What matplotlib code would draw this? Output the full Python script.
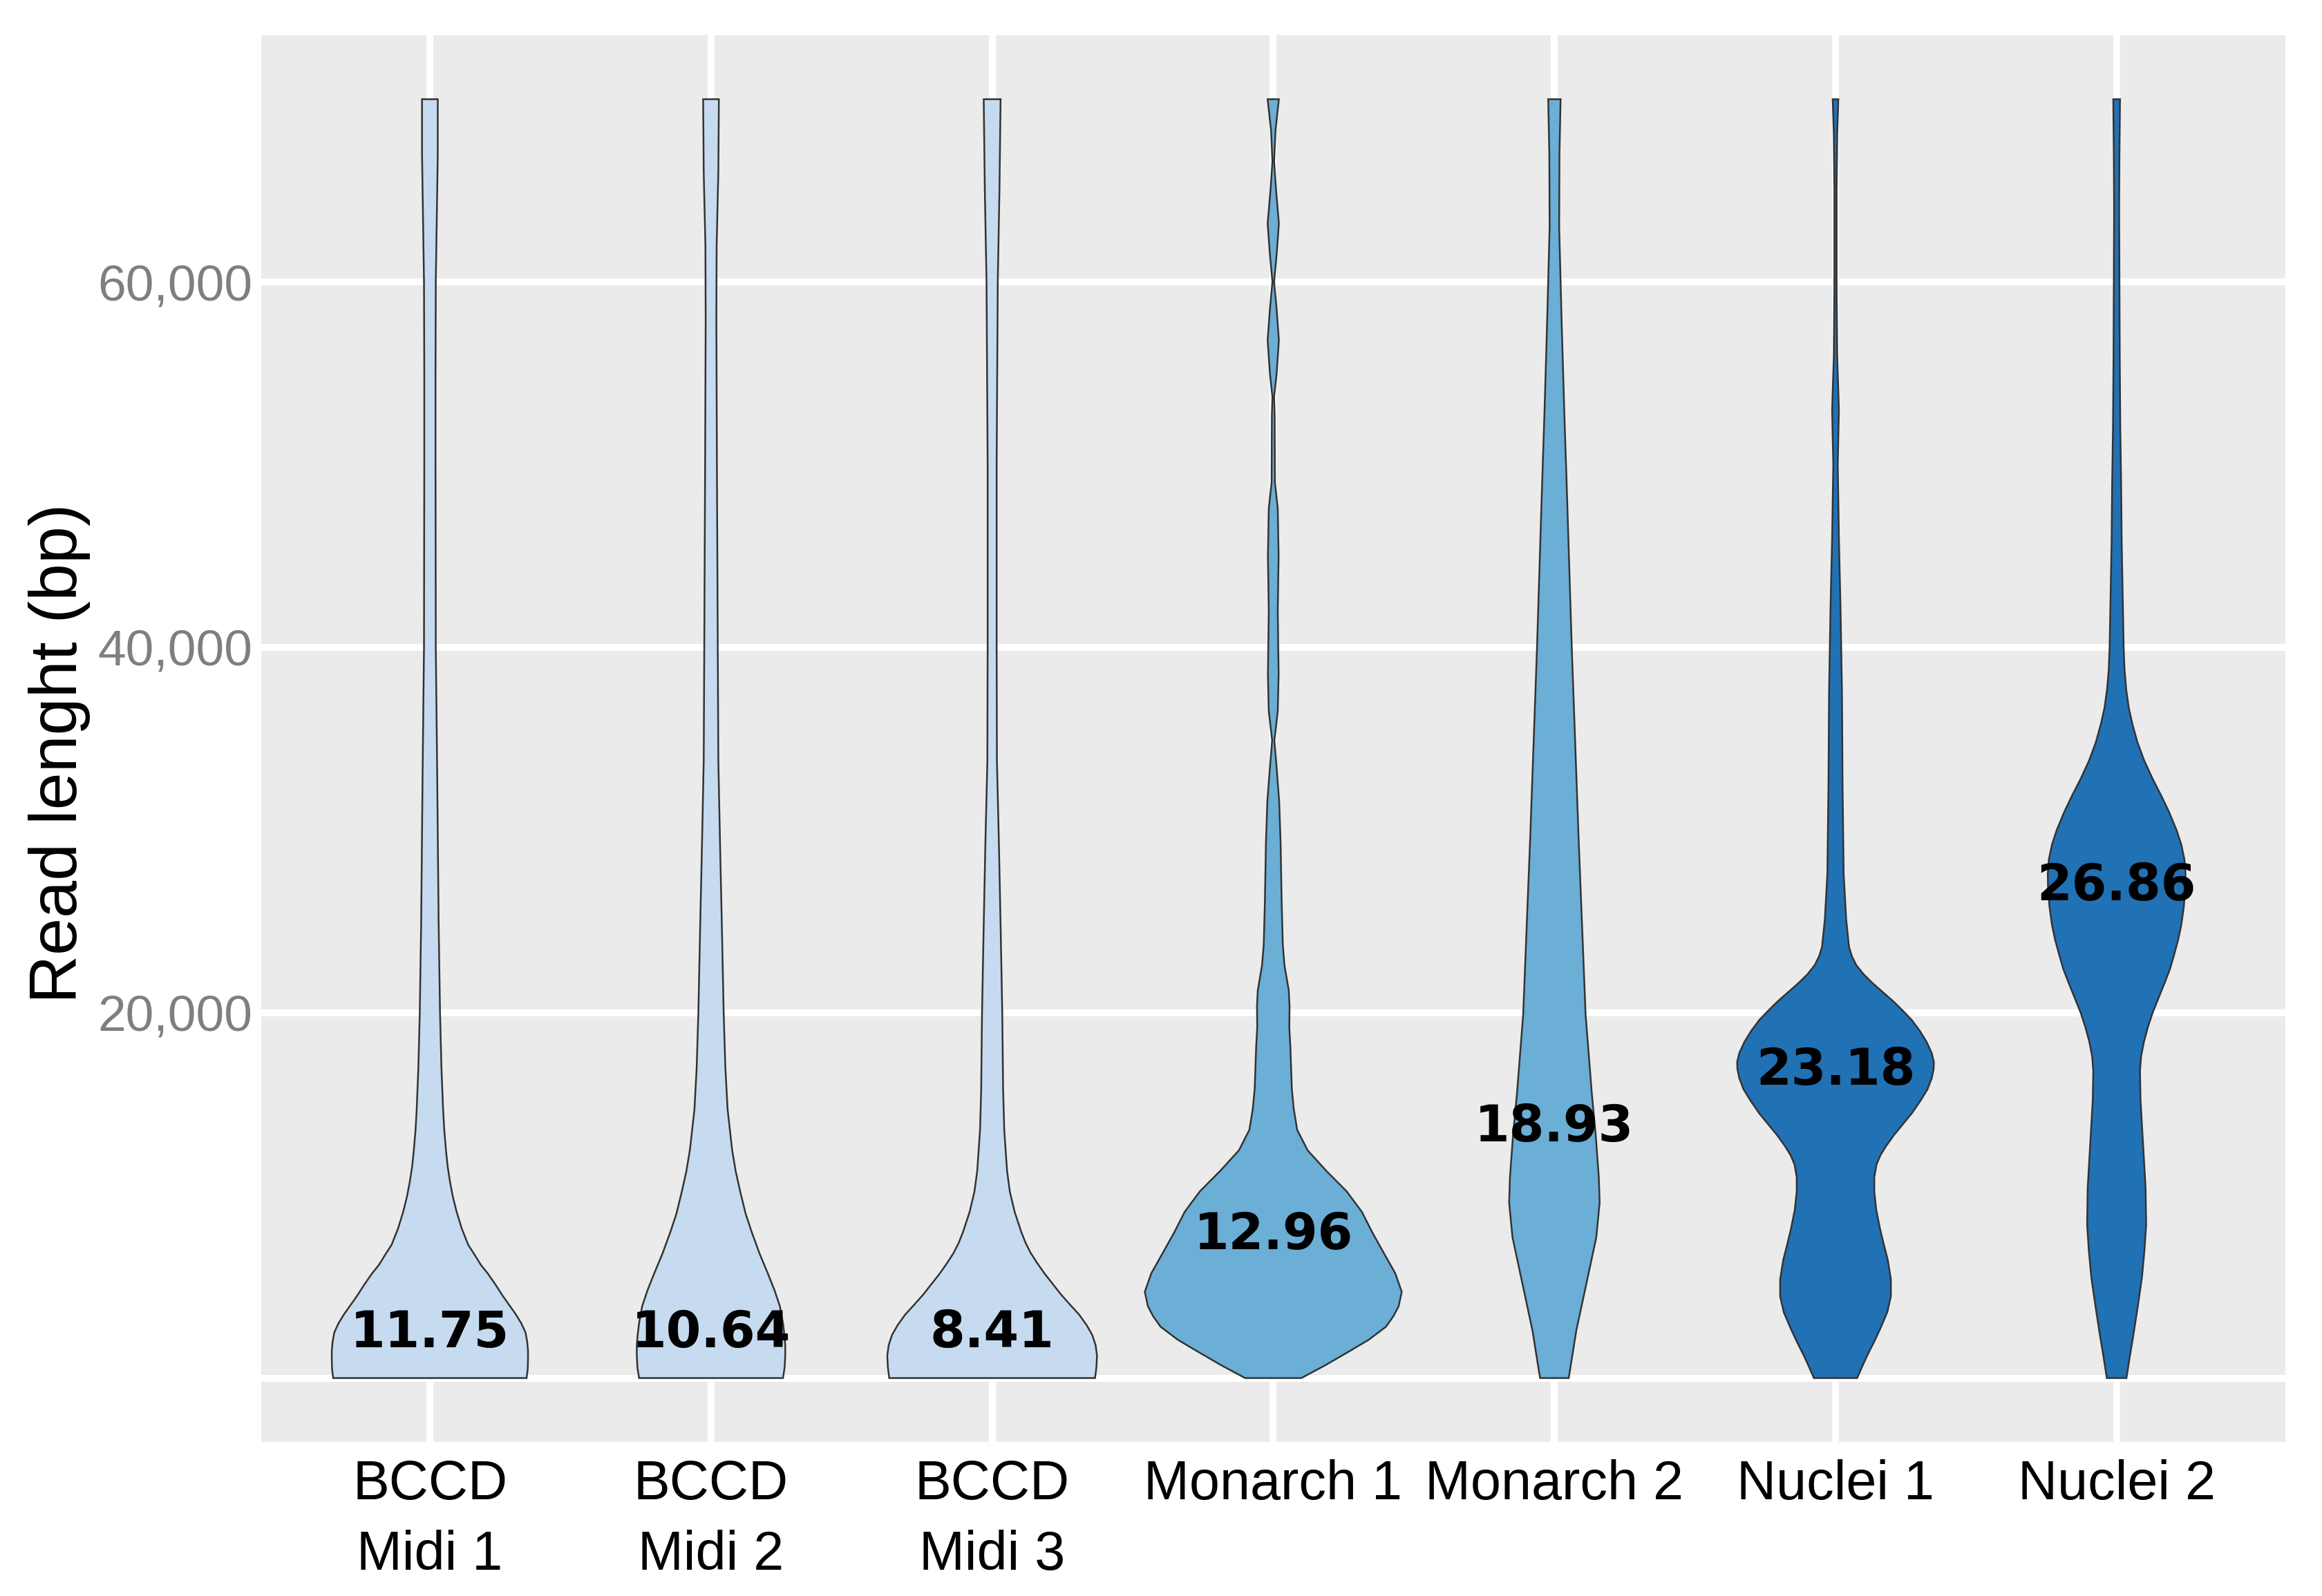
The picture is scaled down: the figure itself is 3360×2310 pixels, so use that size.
import numpy as np
import matplotlib
matplotlib.use("Agg")
import matplotlib.pyplot as plt

# samples and colours
samples = ["BCCD\nMidi 1", "BCCD\nMidi 2", "BCCD\nMidi 3", "Monarch 1", "Monarch 2", "Nuclei 1", "Nuclei 2"]
fills = ["#C6DBEF", "#C6DBEF", "#C6DBEF", "#6BAED6", "#6BAED6", "#2171B5", "#2171B5"]

# N50 labels (kb) and where they sit (bp)
label_txt = ["11.75", "10.64", "8.41", "12.96", "18.93", "23.18", "26.86"]
label_y = [2750, 2750, 2750, 8100, 14000, 17100, 27200]

# violin outlines: read length (kb) vs half width (category units)
midi1_y = [0, 0.5, 1.0, 1.5, 2.0, 2.5, 3.0, 3.5, 4.0, 4.5, 5.1, 5.7, 6.2, 6.8, 7.3, 8.2, 9.1, 9.9, 10.7,
           11.6, 12.5, 13.6, 14.7, 17, 20, 25, 33, 40, 50, 55, 60, 64, 67, 70]
midi1_w = [0.344, 0.348, 0.349, 0.349, 0.346, 0.340, 0.325, 0.305, 0.282, 0.259, 0.234, 0.207, 0.181,
           0.157, 0.136, 0.113, 0.095, 0.082, 0.072, 0.063, 0.057, 0.051, 0.047, 0.041, 0.036, 0.031,
           0.026, 0.021, 0.020, 0.020, 0.021, 0.025, 0.028, 0.028]

midi2_y = [0, 0.6, 1.24, 1.8, 2.36, 3.0, 3.93, 4.8, 5.73, 6.8, 7.98, 9.0, 10.2, 11.3, 12.5, 14.7, 17.0,
           20.0, 24.8, 29.3, 33.8, 40, 50, 58, 62, 66, 70]
midi2_w = [0.256, 0.262, 0.264, 0.264, 0.261, 0.256, 0.245, 0.226, 0.202, 0.173, 0.145, 0.123, 0.104,
           0.088, 0.075, 0.059, 0.051, 0.045, 0.0385, 0.032, 0.026, 0.024, 0.021, 0.019, 0.020, 0.026, 0.028]

midi3_y = [0, 0.6, 1.24, 1.8, 2.36, 2.9, 3.48, 4.0, 4.61, 5.2, 5.73, 6.3, 6.85, 7.4, 7.98, 9.1, 10.2,
           11.35, 13.6, 15.8, 20, 24.8, 29.3, 33.8, 40, 50, 60, 65, 70]
midi3_w = [0.366, 0.371, 0.373, 0.368, 0.356, 0.336, 0.309, 0.278, 0.243, 0.213, 0.186, 0.160, 0.137,
           0.119, 0.104, 0.080, 0.063, 0.053, 0.043, 0.039, 0.036, 0.030, 0.024, 0.017, 0.016, 0.016,
           0.020, 0.026, 0.030]

monarch1_y = [0, 0.7, 1.46, 2.1, 2.81, 3.4, 3.93, 4.72, 5.73, 6.85, 7.98, 9.10, 10.22, 11.35, 12.47,
              13.59, 14.72, 15.84, 18.09, 19.21, 20.34, 21.23, 22.58, 23.71, 25.95, 29.32, 31.57, 33.4,
              34.9, 36.5, 38.5, 42, 45, 47.6, 49, 52.7, 53.7, 55, 56.8, 58.5, 60, 61.5, 63.2, 65, 66.6,
              68.3, 70]
monarch1_w = [0.100, 0.185, 0.270, 0.340, 0.401, 0.428, 0.446, 0.457, 0.434, 0.393, 0.352, 0.315, 0.261,
              0.188, 0.122, 0.085, 0.073, 0.066, 0.061, 0.057, 0.058, 0.055, 0.040, 0.034, 0.030, 0.026,
              0.021, 0.012, 0.004, 0.016, 0.019, 0.016, 0.019, 0.016, 0.006, 0.005, 0.003, 0.012, 0.020,
              0.012, 0.003, 0.012, 0.020, 0.010, 0.003, 0.008, 0.020]

monarch2_y = [0, 2.6, 5.4, 7.7, 9.6, 11.0, 13.3, 15.6, 19.9, 29.6, 39.9, 48.3, 53.0, 57.7, 63.0, 67.0, 70.0]
monarch2_w = [0.051, 0.078, 0.117, 0.149, 0.161, 0.158, 0.147, 0.133, 0.111, 0.086, 0.062, 0.045, 0.035,
              0.026, 0.017, 0.018, 0.022]

nuclei1_y = [0, 0.6, 1.24, 2.0, 2.73, 3.6, 4.47, 5.4, 6.46, 7.3, 8.2, 9.2, 10.2, 11.0, 11.7, 12.2, 12.7,
             13.3, 13.9, 14.5, 15.2, 15.8, 16.4, 16.9, 17.3, 17.8, 18.4, 19.0, 19.6, 20.1, 20.6, 21.1,
             21.6, 22.1, 22.6, 23.1, 23.6, 25.1, 27.6, 32.5, 37.5, 42, 46, 50, 53, 56, 60, 65, 68, 70]
nuclei1_w = [0.077, 0.094, 0.113, 0.138, 0.160, 0.184, 0.197, 0.197, 0.186, 0.172, 0.158, 0.145, 0.138,
             0.138, 0.146, 0.160, 0.180, 0.208, 0.240, 0.272, 0.303, 0.327, 0.342, 0.349, 0.350, 0.342,
             0.324, 0.300, 0.271, 0.240, 0.207, 0.170, 0.133, 0.100, 0.074, 0.058, 0.048, 0.038, 0.029,
             0.025, 0.023, 0.018, 0.012, 0.008, 0.012, 0.006, 0.004, 0.004, 0.006, 0.010]

nuclei2_y = [0, 1.2, 2.3, 3.9, 5.5, 7.0, 8.4, 10.4, 12.0, 13.6, 15.2, 16.8, 17.6, 18.4, 19.2, 20.0, 20.8,
             21.6, 22.4, 23.2, 24.0, 24.8, 25.8, 26.8, 27.6, 28.4, 29.2, 30.0, 31.0, 31.9, 32.8, 33.8,
             34.8, 35.8, 36.7, 37.7, 38.8, 40.0, 45.7, 48.9, 52, 56, 60, 64, 67, 70]
nuclei2_w = [0.035, 0.047, 0.059, 0.075, 0.090, 0.099, 0.105, 0.103, 0.097, 0.091, 0.085, 0.083, 0.087,
             0.097, 0.111, 0.128, 0.149, 0.170, 0.190, 0.205, 0.219, 0.230, 0.239, 0.244, 0.245, 0.241,
             0.230, 0.213, 0.186, 0.158, 0.128, 0.098, 0.074, 0.056, 0.043, 0.034, 0.028, 0.025, 0.018,
             0.016, 0.013, 0.011, 0.010, 0.009, 0.010, 0.012]

profiles = [(midi1_y, midi1_w), (midi2_y, midi2_w), (midi3_y, midi3_w),
            (monarch1_y, monarch1_w), (monarch2_y, monarch2_w),
            (nuclei1_y, nuclei1_w), (nuclei2_y, nuclei2_w)]

ytick_vals = [0, 20000, 40000, 60000]
ytick_txt = ["", "20,000", "40,000", "60,000"]

plt.rcParams["font.family"] = ["Liberation Sans", "DejaVu Sans"]

fig = plt.figure(figsize=(11.2, 7.7), dpi=300)
ax = fig.add_axes([0.1125, 0.0965, 0.8717, 0.8814])
ax.set_facecolor("#EBEBEB")
for s in ax.spines.values():
    s.set_visible(False)

ax.set_xlim(0.4, 7.6)
ax.set_ylim(-3500, 73500)
ax.set_xticks(np.arange(1, 8))
ax.set_xticklabels(samples, fontsize=19, color="black", linespacing=1.46)
ax.set_yticks(ytick_vals)
ax.set_yticklabels(ytick_txt, fontsize=17.6, color="#7F7F7F")
ax.tick_params(axis="both", length=0)
ax.tick_params(axis="x", pad=6)
ax.tick_params(axis="y", pad=3)
ax.grid(True, color="white", linewidth=2.4)
ax.set_axisbelow(True)

for i, (yk, hw) in enumerate(profiles):
    pos = i + 1
    y = np.array(yk) * 1000
    w = np.array(hw)
    xs = np.concatenate([pos - w, (pos + w)[::-1]])
    ys = np.concatenate([y, y[::-1]])
    ax.fill(xs, ys, facecolor=fills[i], edgecolor="#333333", linewidth=0.6, zorder=3)
    ax.text(pos, label_y[i], label_txt[i], ha="center", va="center_baseline",
            fontsize=17.5, fontweight="bold", family="DejaVu Sans", color="black", zorder=4)

fig.text(86 / 3360, 1 - 1090 / 2310, "Read lenght (bp)", rotation=90, ha="center", va="center",
         fontsize=23.3, color="black")

fig.savefig("out.png", dpi=300, facecolor="white")
